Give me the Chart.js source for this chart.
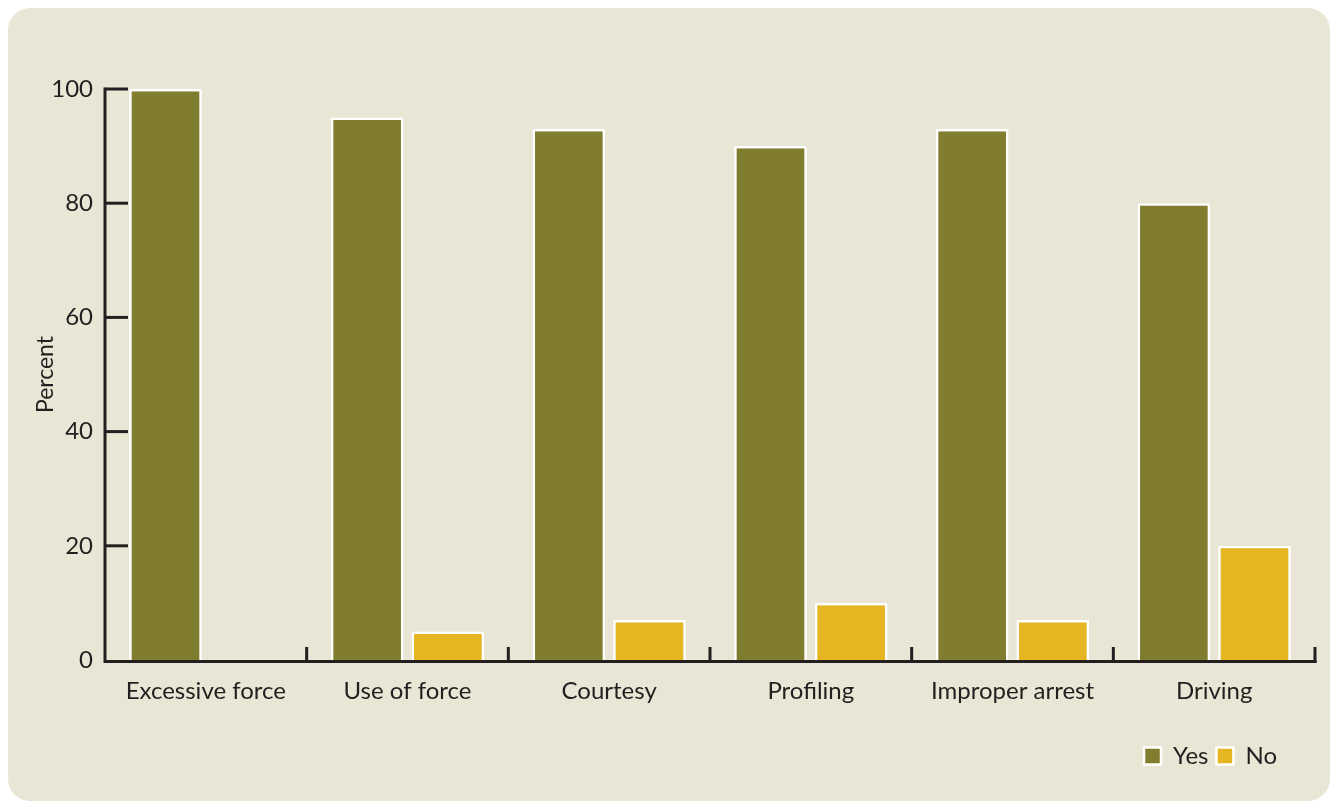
<!DOCTYPE html>
<html>
<head>
<meta charset="utf-8">
<script src="https://cdn.jsdelivr.net/npm/chart.js@4.4.1/dist/chart.umd.min.js"></script>
<style>
  html, body { margin: 0; padding: 0; background: #fff; }
  .panel {
    position: absolute; left: 8px; top: 8px; width: 1322px; height: 793px;
    background: #e9e6d5; border-radius: 22px;
  }
  .wrap { position: absolute; left: 0; top: 0; width: 1330px; height: 803px; }
</style>
</head>
<body>
<div class="panel"></div>
<div class="wrap"><canvas id="chart"></canvas></div>
<script>
const categories = ['Excessive force', 'Use of force', 'Courtesy', 'Profiling', 'Improper arrest', 'Driving'];
const yesValues = [100, 95, 93, 90, 93, 80];
const noValues = [0, 5, 7, 10, 7, 20];
const yTicks = [0, 20, 40, 60, 80, 100];

const ink = '#231f20';
const fontFamily = 'Lato, "Open Sans", sans-serif';

// axis lines and inward tick marks, placed from the scales
const axisPlugin = {
    id: 'axisPlugin',
    afterLayout(chart) {
        // pull the legend in from the right edge
        chart.legend.left -= 30;
        chart.legend.right -= 30;
        chart.legend.top -= 3;
        chart.legend.bottom -= 3;
    },
    afterDraw(chart) {
        const {ctx, chartArea} = chart;
        const x = chart.scales.x;
        const y = chart.scales.y;
        ctx.save();
        ctx.strokeStyle = ink;
        ctx.lineWidth = 3;
        ctx.lineCap = 'butt';

        ctx.beginPath();
        ctx.moveTo(chartArea.left, y.getPixelForValue(100) - 1.5);
        ctx.lineTo(chartArea.left, chartArea.bottom + 1.5);
        ctx.lineTo(chartArea.right + 1.5, chartArea.bottom + 1.5);
        ctx.stroke();

        yTicks.forEach(v => {
            if (v === 0) return;
            const py = y.getPixelForValue(v);
            ctx.beginPath();
            ctx.moveTo(chartArea.left, py);
            ctx.lineTo(chartArea.left + 23, py);
            ctx.stroke();
        });

        for (let i = 1; i <= categories.length; i++) {
            const px = x.getPixelForValue(i - 0.5);
            ctx.beginPath();
            ctx.moveTo(px, chartArea.bottom + 3);
            ctx.lineTo(px, chartArea.bottom - 13);
            ctx.stroke();
        }
        ctx.restore();
    }
};

new Chart(document.getElementById('chart').getContext('2d'), {
    type: 'bar',
    data: {
        labels: categories,
        datasets: [
            {
                label: 'Yes',
                data: yesValues,
                backgroundColor: '#807d2f',
                borderColor: '#ffffff',
                borderWidth: 2.5
            },
            {
                label: 'No',
                data: noValues,
                backgroundColor: '#e5b522',
                borderColor: '#ffffff',
                borderWidth: 2.5
            }
        ]
    },
    options: {
        responsive: true,
        maintainAspectRatio: false,
        animation: false,
        layout: {padding: {top: 89, right: 15, left: 30, bottom: 22}},
        datasets: {bar: {categoryPercentage: 0.8, barPercentage: 0.9}},
        scales: {
            x: {
                grid: {display: false},
                border: {display: false},
                ticks: {color: ink, font: {family: fontFamily, size: 24}, padding: 9},
                afterFit: (scale) => { scale.height = 79; }
            },
            y: {
                min: 0,
                max: 100,
                grid: {display: false},
                border: {display: false},
                afterBuildTicks: (scale) => { scale.ticks = yTicks.map(v => ({value: v})); },
                ticks: {color: ink, font: {family: fontFamily, size: 24}, padding: 4},
                title: {display: true, text: 'Percent', color: ink, font: {family: fontFamily, size: 23}, padding: 2},
                afterFit: (scale) => { scale.width = 75; }
            }
        },
        plugins: {
            legend: {
                position: 'bottom',
                align: 'end',
                labels: {
                    color: ink,
                    font: {family: fontFamily, size: 24},
                    boxWidth: 17,
                    boxHeight: 17,
                    padding: 8,
                    useBorderRadius: false
                }
            },
            tooltip: {enabled: false}
        }
    },
    plugins: [axisPlugin]
});
</script>
</body>
</html>
